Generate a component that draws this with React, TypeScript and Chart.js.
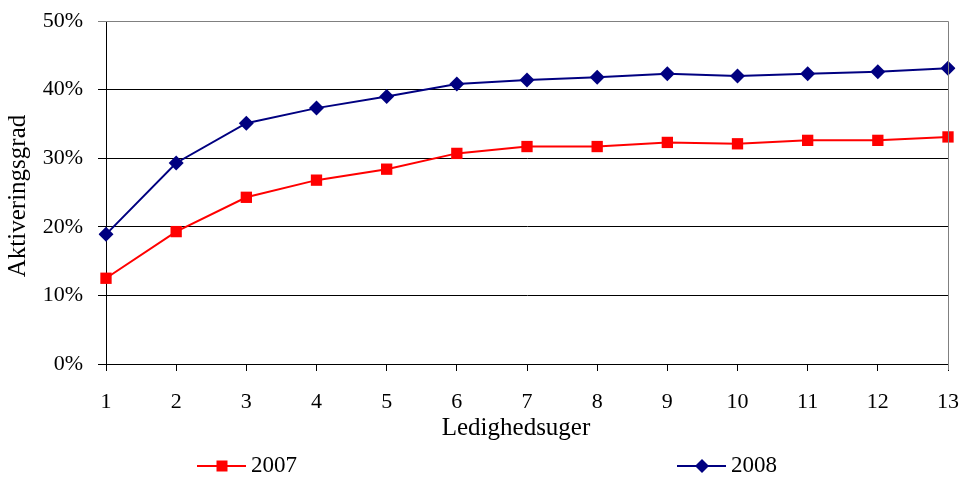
import React, { useEffect, useRef } from "react";
import { Chart, registerables } from "chart.js";

Chart.register(...registerables);

const weeks = ["1", "2", "3", "4", "5", "6", "7", "8", "9", "10", "11", "12", "13"];
const series2007 = [12.5, 19.3, 24.3, 26.8, 28.4, 30.7, 31.7, 31.7, 32.3, 32.1, 32.6, 32.6, 33.1];
const series2008 = [18.9, 29.3, 35.1, 37.3, 39.0, 40.8, 41.4, 41.8, 42.3, 42.0, 42.3, 42.6, 43.1];
const yTicks = [0, 10, 20, 30, 40, 50];
const xTitle = "Ledighedsuger";
const yTitle = "Aktiveringsgrad";
const legendLabels = ["2007", "2008"];

const RED = "#FF0000";
const NAVY = "#000080";
const FONT = "'Liberation Serif', 'Times New Roman', serif";

const decorPlugin = {
  id: "decor",
  afterDraw(chart: any) {
    const ctx = chart.ctx;
    const a = chart.chartArea;
    ctx.save();

    // right and top border of plot area
    ctx.strokeStyle = "#808080";
    ctx.lineWidth = 1;
    ctx.beginPath();
    ctx.moveTo(a.left, a.top + 0.5);
    ctx.lineTo(a.right + 0.5, a.top + 0.5);
    ctx.lineTo(a.right + 0.5, a.bottom + 6);
    ctx.stroke();

    // axis titles
    ctx.fillStyle = "#000";
    ctx.font = `25px ${FONT}`;
    ctx.textAlign = "center";
    ctx.textBaseline = "middle";
    ctx.fillText(xTitle, (a.left + a.right) / 2 - 11, 428);
    ctx.save();
    ctx.translate(18.5, (a.top + a.bottom) / 2 + 3.5);
    ctx.rotate(-Math.PI / 2);
    ctx.fillText(yTitle, 0, 0);
    ctx.restore();

    // legend
    const items = [
      { label: legendLabels[0], color: RED, style: "rect", x: 197 },
      { label: legendLabels[1], color: NAVY, style: "rectRot", x: 677 },
    ];
    const y = 466;
    items.forEach((it) => {
      ctx.strokeStyle = it.color;
      ctx.lineWidth = 2;
      ctx.beginPath();
      ctx.moveTo(it.x, y);
      ctx.lineTo(it.x + 49, y);
      ctx.stroke();
      ctx.fillStyle = it.color;
      ctx.beginPath();
      const cx = it.x + 25;
      if (it.style === "rect") {
        ctx.rect(cx - 5.5, y - 5.5, 11, 11);
      } else {
        ctx.moveTo(cx - 7, y);
        ctx.lineTo(cx, y - 7);
        ctx.lineTo(cx + 7, y);
        ctx.lineTo(cx, y + 7);
        ctx.closePath();
      }
      ctx.fill();
      ctx.fillStyle = "#000";
      ctx.font = `23px ${FONT}`;
      ctx.textBaseline = "middle";
      ctx.textAlign = "left";
      ctx.fillText(it.label, it.x + 54, y);
    });
    ctx.restore();
  },
};

export default function App() {
  const ref = useRef<HTMLCanvasElement>(null);
  useEffect(() => {
    const chart = new Chart(ref.current as HTMLCanvasElement, {
      type: "line",
      data: {
        labels: weeks,
        datasets: [
          {
            label: legendLabels[0],
            data: series2007,
            borderColor: RED,
            backgroundColor: RED,
            borderWidth: 2,
            pointStyle: "rect",
            pointRadius: 8,
            pointBorderWidth: 0,
            tension: 0,
          },
          {
            label: legendLabels[1],
            data: series2008,
            borderColor: NAVY,
            backgroundColor: NAVY,
            borderWidth: 2,
            pointStyle: "rectRot",
            pointRadius: 7.5,
            pointBorderWidth: 0,
            tension: 0,
          },
        ],
      },
      options: {
        animation: false,
        responsive: true,
        maintainAspectRatio: false,
        layout: { padding: { left: 0, top: 21, right: 14, bottom: 0 } },
        plugins: { legend: { display: false }, tooltip: { enabled: false } },
        scales: {
          x: {
            offset: false,
            afterFit: (s: any) => {
              s.height = 113;
              s.paddingLeft = 0;
              s.paddingRight = 0;
            },
            grid: { drawOnChartArea: false, drawTicks: true, tickLength: 7, color: "#000" },
            border: { color: "#000", width: 1 },
            ticks: { color: "#000", font: { family: FONT, size: 22 }, padding: 18, maxRotation: 0 },
          },
          y: {
            min: 0,
            max: 50,
            afterFit: (s: any) => {
              s.width = 106;
              s.paddingTop = 0;
              s.paddingBottom = 0;
            },
            afterBuildTicks: (s: any) => {
              s.ticks = yTicks.map((v) => ({ value: v }));
            },
            grid: {
              drawTicks: true,
              tickLength: 8,
              color: (c: any) => (c.tick && c.tick.value === 50 ? "#808080" : "#000"),
            },
            border: { color: "#000", width: 1 },
            ticks: {
              color: "#000",
              font: { family: FONT, size: 22 },
              padding: 15,
              callback: (v: any) => `${v}%`,
            },
          },
        },
      },
      plugins: [decorPlugin],
    });
    return () => chart.destroy();
  }, []);
  return (
    <div style={{ position: "fixed", left: 0, top: 0, width: 962, height: 477, background: "#fff" }}>
      <canvas ref={ref} />
    </div>
  );
}
